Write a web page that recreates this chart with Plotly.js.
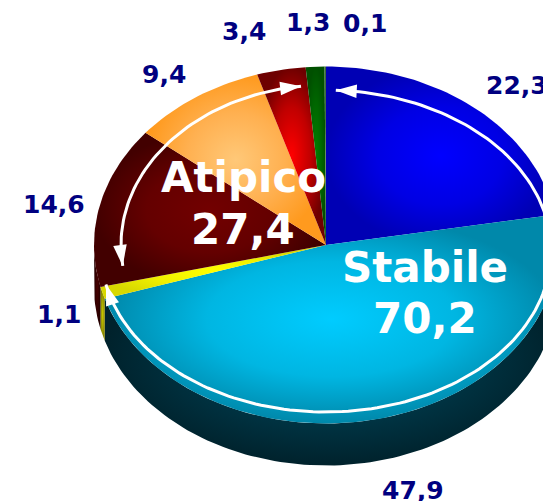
<!DOCTYPE html>
<html>
<head>
<meta charset="utf-8">
<script src="https://cdn.plot.ly/plotly-3.0.1.min.js"></script>
<style>html,body{margin:0;padding:0;background:#fff;overflow:hidden}</style>
</head>
<body>
<div id="chart" style="width:543px;height:501px"></div>
<script>
// Data
const sliceValues = [22.3, 47.9, 1.1, 14.6, 9.4, 3.4, 1.3, 0.1];
const sliceCentre = ['#0000ff', '#00ccff', '#ffff00', '#720000', '#ffc878', '#ff0000', '#008000', '#4a7a4a'];
const sliceMiddle = ['#0000e4', '#00b6e2', '#f0f000', '#640000', '#ffb050', '#c00000', '#006800', '#427242'];
const sliceEdge   = ['#0000b4', '#0088aa', '#d8d800', '#420000', '#ff9a1e', '#6e0000', '#005000', '#3a6a3a'];
const wallCentre  = ['#00008c', '#005068', '#c8c800', '#480000', '#c87010', '#900000', '#004000', '#808080'];
const wallEdge    = ['#000050', '#00222c', '#808000', '#240000', '#804000', '#500000', '#002000', '#505050'];
const groupLabels = ['Stabile', 'Atipico'];
const groupValues = [70.2, 27.4];
const labelPlace = [[517,85],[413,490],[59,314],[54,204],[164,74],[244,31],[308,22],[365,23]];
const groupPlace = [[425,267,318],[243,177,229]];

// Geometry of the drawing (tilted pie)
const cx = 326, cy = 245, rx = 232, ry = 178.5, depth = 42;
const total = sliceValues.reduce((a, b) => a + b, 0);
const deg = v => v / total * 360;
const comma = v => v.toFixed(1).replace('.', ',');

function arc(t0, t1, a, b, c, dy) {
  const n = Math.max(2, Math.ceil(Math.abs(t1 - t0) / 1.5));
  const xs = [], ys = [];
  for (let i = 0; i <= n; i++) {
    const t = (t0 + (t1 - t0) * i / n) * Math.PI / 180;
    xs.push((c ? c[0] : cx) + a * Math.sin(t));
    ys.push((c ? c[1] : cy) - b * Math.cos(t) + (dy || 0));
  }
  return [xs, ys];
}
const base = {type: 'scatter', mode: 'lines', fill: 'toself', line: {width: 0}, hoverinfo: 'skip', showlegend: false};

const walls = [], tops = [];
let start = 0;
sliceValues.forEach((v, i) => {
  const end = start + deg(v);
  const w0 = Math.max(start, 90), w1 = Math.min(end, 270);
  if (w1 > w0) {
    const [xa, ya] = arc(w0, w1, rx, ry);
    const [xb, yb] = arc(w1, w0, rx, ry, null, depth);
    walls.push({...base, x: xa.concat(xb), y: ya.concat(yb),
      fillgradient: {type: 'radial', colorscale: [[0, wallCentre[i]], [1, wallEdge[i]]]}});
  }
  const [xt, yt] = arc(start, end, rx, ry);
  tops.push({...base, x: [cx].concat(xt, [cx]), y: [cy].concat(yt, [cy]),
    fillgradient: {type: 'radial', colorscale: [[0, sliceCentre[i]], [0.55, sliceMiddle[i]], [1, sliceEdge[i]]]}});
  start = end;
});

// White arc arrows spanning the two groups
const arcStyle = {type: 'scatter', mode: 'lines', line: {color: '#fff', width: 3}, hoverinfo: 'skip', showlegend: false};
const stabileArc = arc(2.5, 258, 225, 161, [326, 251]);
const atipicoArc = arc(262.5, 353, 205, 160, [326, 245]);
function head(line, atEnd) {
  const n = line[0].length, a = atEnd ? n - 1 : 0, b = atEnd ? n - 3 : 2;
  return {type: 'scatter', mode: 'markers', x: [line[0][b], line[0][a]], y: [line[1][b], line[1][a]],
    marker: {symbol: 'arrow', size: [0, 22], opacity: 1, angleref: 'previous', color: '#fff', line: {width: 0}},
    hoverinfo: 'skip', showlegend: false};
}
const traces = walls.concat(tops, [
  {...arcStyle, x: stabileArc[0], y: stabileArc[1]},
  {...arcStyle, x: atipicoArc[0], y: atipicoArc[1]},
  head(stabileArc, false), head(stabileArc, true), head(atipicoArc, false), head(atipicoArc, true)
]);

const navy = {family: 'DejaVu Sans', size: 25, color: '#000080', weight: 700};
const white = {family: 'DejaVu Sans', size: 42, color: '#fff', weight: 700};
const annotations = sliceValues.map((v, i) => ({
  x: labelPlace[i][0], y: labelPlace[i][1], xref: 'x', yref: 'y', text: comma(v),
  showarrow: false, font: navy, xanchor: 'center', yanchor: 'middle'
}));
groupLabels.forEach((g, i) => {
  annotations.push({x: groupPlace[i][0], y: groupPlace[i][1], xref: 'x', yref: 'y', text: g, showarrow: false, font: white});
  annotations.push({x: groupPlace[i][0], y: groupPlace[i][2], xref: 'x', yref: 'y', text: comma(groupValues[i]), showarrow: false, font: white});
});

Plotly.newPlot('chart', traces, {
  width: 543, height: 501, margin: {l: 0, r: 0, t: 0, b: 0},
  paper_bgcolor: '#fff', plot_bgcolor: '#fff', showlegend: false,
  xaxis: {range: [0, 543], visible: false, fixedrange: true},
  yaxis: {range: [501, 0], visible: false, fixedrange: true},
  annotations
}, {staticPlot: true, displayModeBar: false});
</script>
</body>
</html>
